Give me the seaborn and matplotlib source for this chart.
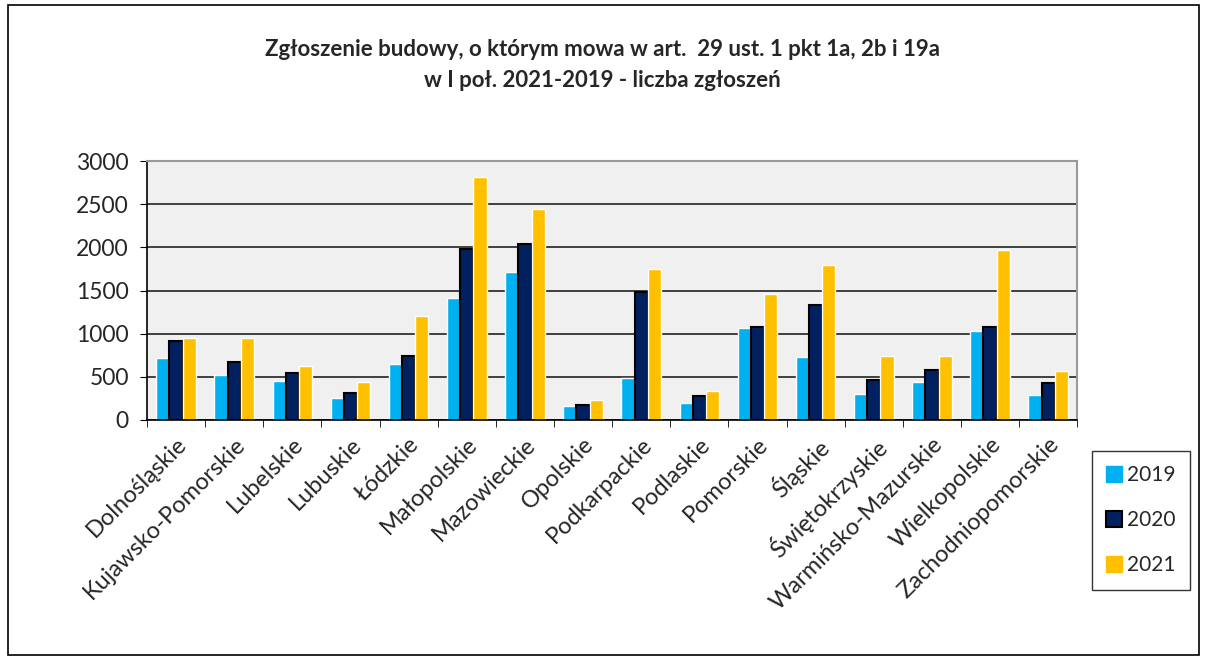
import numpy as np
import pandas as pd
import matplotlib
matplotlib.use("Agg")
import matplotlib.pyplot as plt
import matplotlib.patches as mpatches
import seaborn as sns

# Data
regions = ["Dolnośląskie", "Kujawsko-Pomorskie", "Lubelskie", "Lubuskie", "Łódzkie",
           "Małopolskie", "Mazowieckie", "Opolskie", "Podkarpackie", "Podlaskie",
           "Pomorskie", "Śląskie", "Świętokrzyskie", "Warmińsko-Mazurskie",
           "Wielkopolskie", "Zachodniopomorskie"]
v2019 = [715, 523, 450, 258, 642, 1412, 1719, 165, 481, 196, 1069, 731, 300, 435, 1027, 285]
v2020 = [915, 665, 546, 308, 738, 1981, 2038, 177, 1485, 281, 1077, 1331, 458, 577, 1077, 427]
v2021 = [950, 950, 623, 435, 1204, 2815, 2442, 231, 1750, 331, 1465, 1796, 742, 742, 1973, 565]
years = ["2019", "2020", "2021"]
colors = {"2019": "#00B0F0", "2020": "#002060", "2021": "#FFC000"}

df = pd.DataFrame({"region": regions * 3,
                   "year": [y for y in years for _ in regions],
                   "value": v2019 + v2020 + v2021})

sns.set_style("white")
plt.rcParams["font.family"] = ["Lato", "DejaVu Sans"]

fig = plt.figure(figsize=(12.05, 6.58), dpi=100)
ax = fig.add_axes([0.122, 0.362, 0.772, 0.393])

sns.barplot(data=df, x="region", y="value", hue="year", palette=colors,
            width=0.68, ax=ax, legend=False, saturation=1)

# black edge on 2020 bars only
for bar in ax.containers[1]:
    bar.set_edgecolor("black")
    bar.set_linewidth(1.5)

ax.set_facecolor("#F0F0F0")
ax.set_ylim(0, 3000)
ax.set_xlim(-0.5, len(regions) - 0.5)
ax.set_yticks(np.arange(0, 3001, 500))
ax.yaxis.grid(True, color="#222222", linewidth=1.2)
ax.set_axisbelow(True)
ax.set_xlabel("")
ax.set_ylabel("")

ax.tick_params(axis="y", labelsize=16.5, length=5, pad=8, direction="out", left=True, color="black")
ax.set_xticks(range(len(regions)))
ax.set_xticklabels(regions, rotation=45, ha="right", rotation_mode="anchor", fontsize=17)
ax.tick_params(axis="x", which="major", length=0, pad=10)
ax.set_xticks(np.arange(-0.5, len(regions) + 0.5, 1), minor=True)
ax.tick_params(axis="x", which="minor", length=5, bottom=True, color="black")

for s in ["left", "bottom"]:
    ax.spines[s].set_color("black")
    ax.spines[s].set_linewidth(1.2)
for s in ["top", "right"]:
    ax.spines[s].set_color("#999999")
    ax.spines[s].set_linewidth(1.5)

fig.suptitle("Zgłoszenie budowy, o którym mowa w art.  29 ust. 1 pkt 1a, 2b i 19a\nw I poł. 2021-2019 - liczba zgłoszeń",
             y=0.94, fontsize=16, fontweight="bold", linespacing=1.55)

handles = [mpatches.Patch(facecolor=colors["2019"], edgecolor=colors["2019"]),
           mpatches.Patch(facecolor=colors["2020"], edgecolor="black", linewidth=1.5),
           mpatches.Patch(facecolor=colors["2021"], edgecolor=colors["2021"])]
leg = fig.legend(handles, years, loc="upper left", bbox_to_anchor=(0.906, 0.315),
                 fontsize=15, frameon=True, fancybox=False, handlelength=0.75,
                 handleheight=0.75, handletextpad=0.25, labelspacing=1.2,
                 borderpad=0.7, borderaxespad=0)
leg.get_frame().set_edgecolor("black")
leg.get_frame().set_linewidth(1)

# outer chart border
fig.patches.append(mpatches.Rectangle((0.007, 0.005), 0.988, 0.988, transform=fig.transFigure,
                                      fill=False, edgecolor="black", linewidth=1.2))

fig.savefig("out.png", dpi=100)
